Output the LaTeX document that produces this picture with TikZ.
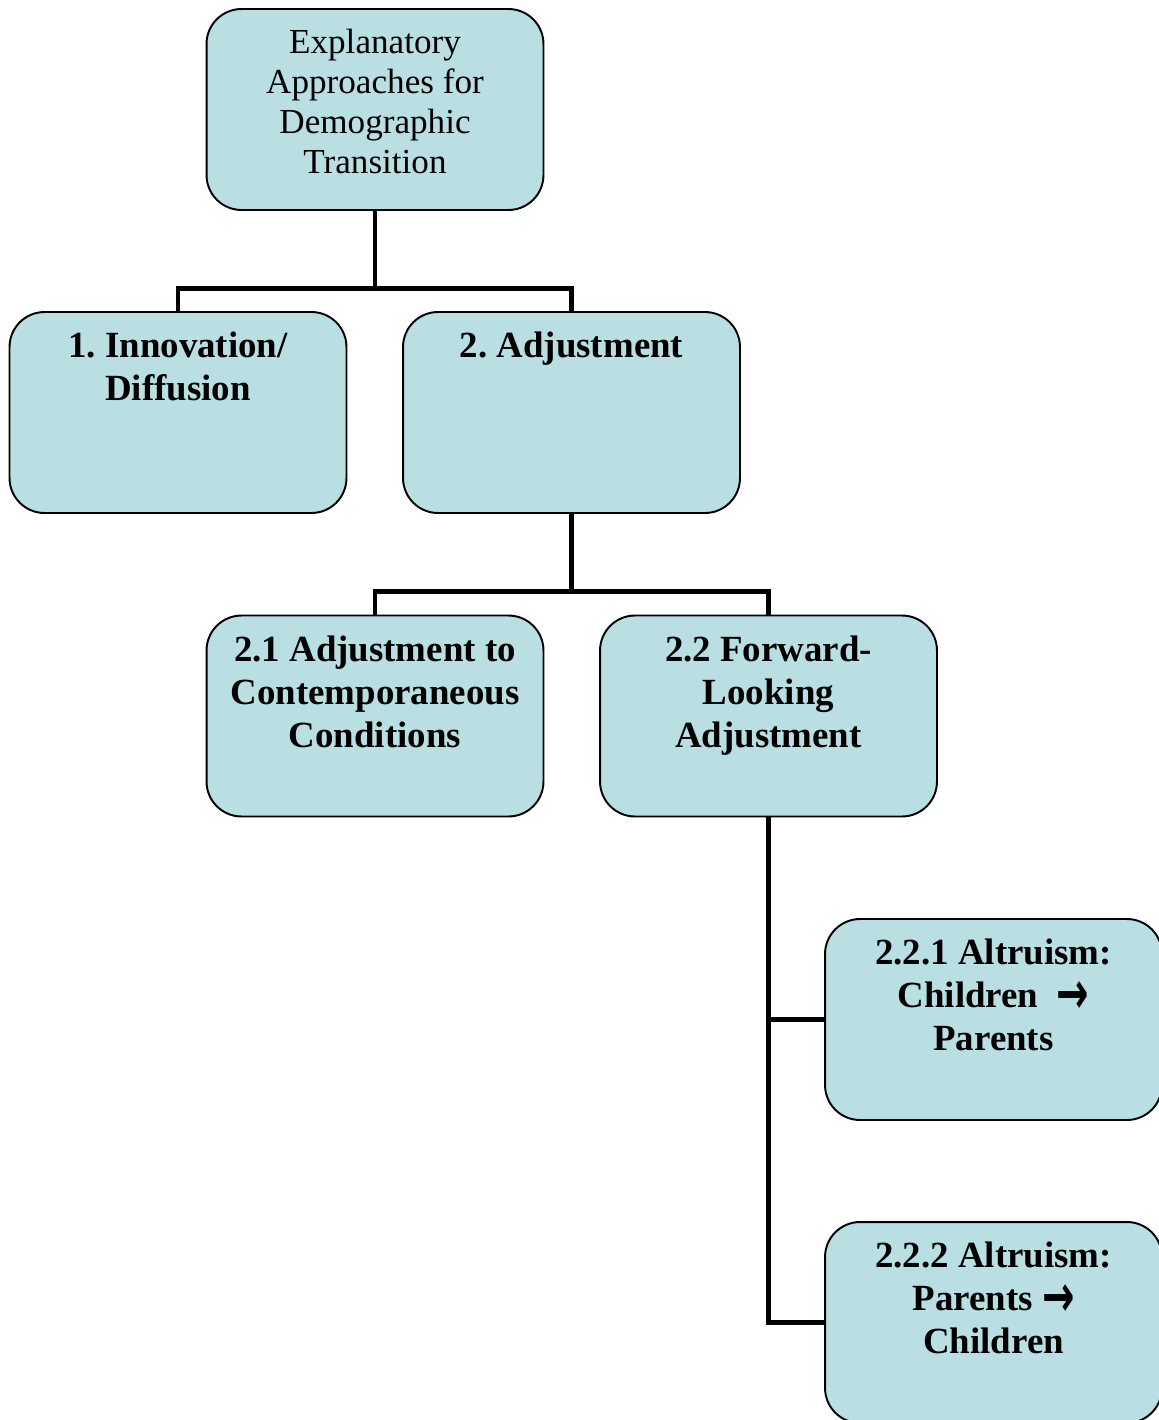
\documentclass[tikz,border=0pt]{standalone}
\usepackage{fontspec}
\setmainfont{Liberation Serif}
\newfontfamily\arrowfont{DejaVu Sans}
\usepackage{tikz}
\usetikzlibrary{positioning}
\frenchspacing

\definecolor{boxfill}{HTML}{B9DFE3}
\newcommand{\toarrow}{{\arrowfont\bfseries\raisebox{-3.2pt}{\scalebox{1.05}[1.6]{→}}}}

\begin{document}
\begin{tikzpicture}[
  x=0.02cm, y=-0.02cm,
  box/.style={rectangle, rounded corners=0.7cm, draw=black, line width=1.1pt, fill=boxfill,
              minimum width=6.74cm, minimum height=4.02cm, inner sep=0pt,
              execute at begin node={\begin{minipage}[c][3.22cm][t]{6.5cm}\centering},
              execute at end node={\end{minipage}}},
  rootfont/.style={font=\fontsize{20pt}{22.8pt}\selectfont},
  boldfont/.style={font=\fontsize{21pt}{24.5pt}\selectfont\bfseries},
  link/.style={line width=2.8pt}
]
\clip (0,0) rectangle (1159,1420);

\node[box, rootfont] (root)     at (375,109.5)  {Explanatory\\Approaches for\\Demographic\\Transition};
\node[box, boldfont] (inno)     at (178,412.5)  {1. Innovation/\\Diffusion};
\node[box, boldfont] (adj)      at (571.5,412.5){2. Adjustment};
\node[box, boldfont] (contemp)  at (375,716)    {2.1 Adjustment to\\Contemporaneous\\Conditions};
\node[box, boldfont] (forward)  at (768.5,716)  {2.2 Forward-\\Looking\\Adjustment};
\node[box, boldfont] (kids)     at (993.5,1019.5){2.2.1 Altruism:\\Children\ \ \toarrow\\Parents};
\node[box, boldfont] (elders)   at (993.5,1322.5){2.2.2 Altruism:\\Parents \toarrow\\Children};

\draw[link] (root.south) -- ++(0,-1.56cm) -| (inno.north);
\draw[link] (root.south) -- ++(0,-1.56cm) -| (adj.north);
\draw[link] (adj.south) -- ++(0,-1.56cm) -| (contemp.north);
\draw[link] (adj.south) -- ++(0,-1.56cm) -| (forward.north);
\draw[link] (forward.south) |- (kids.west);
\draw[link] (forward.south) |- (elders.west);
\end{tikzpicture}
\end{document}
